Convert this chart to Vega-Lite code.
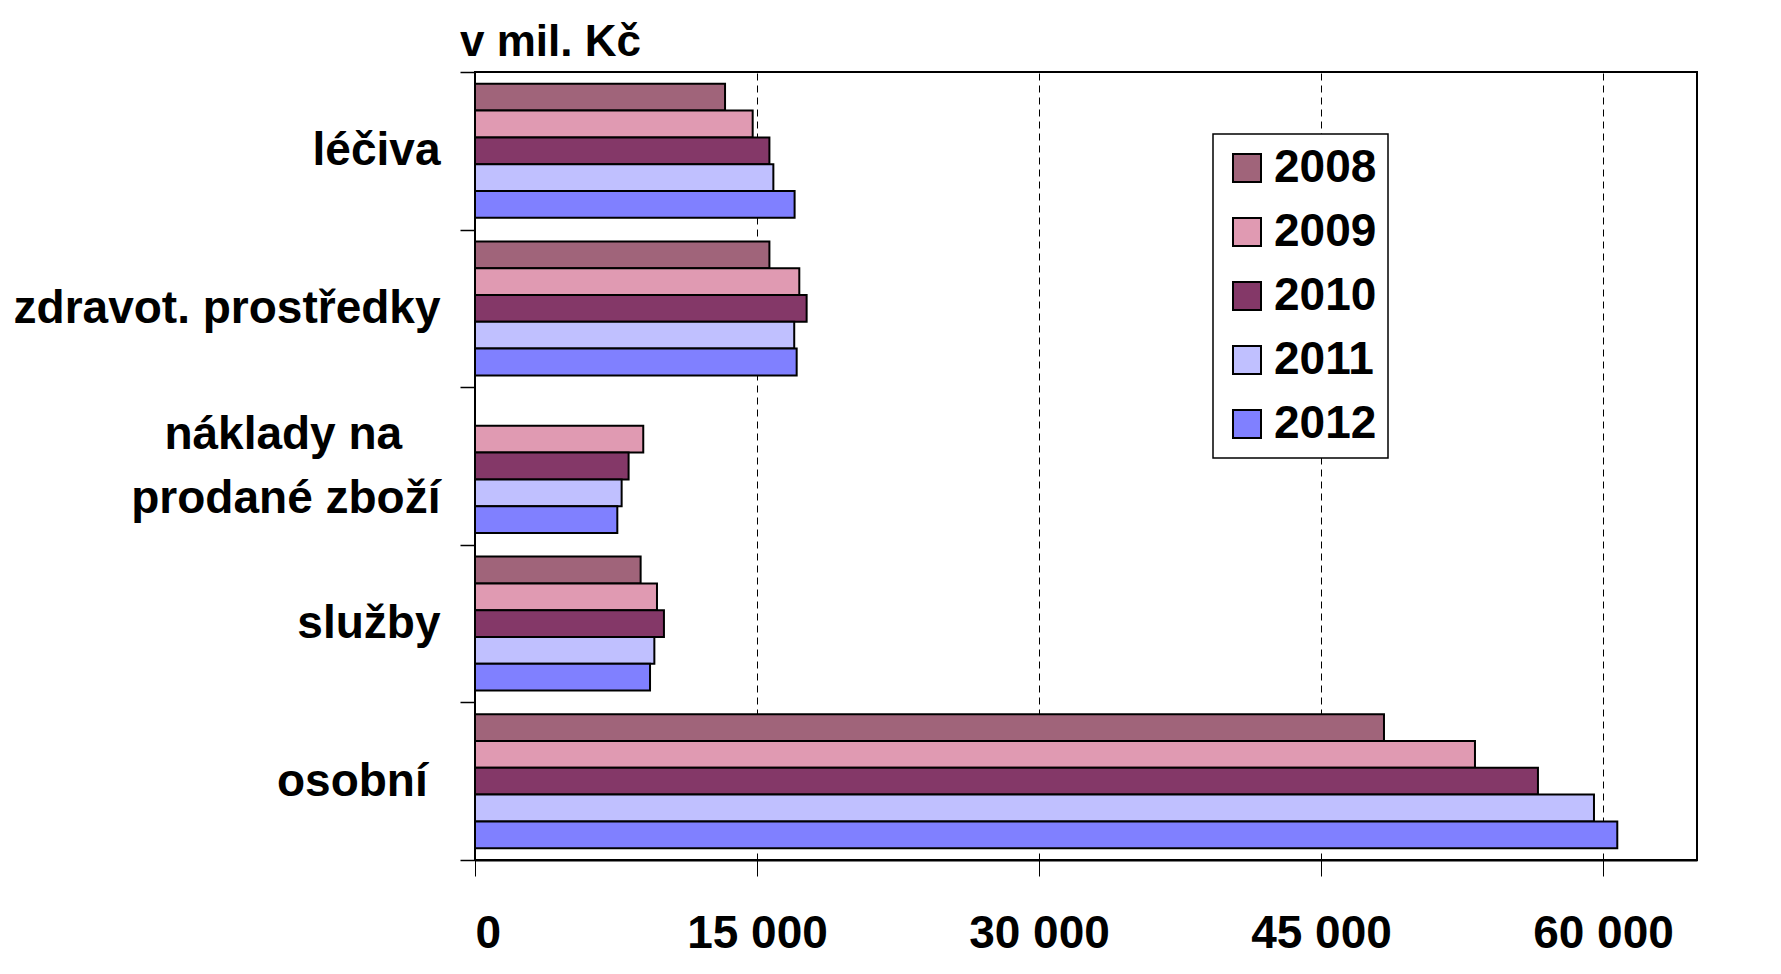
{
  "$schema": "https://vega.github.io/schema/vega-lite/v6.json",
  "width": 1222,
  "height": 788,
  "autosize": {"type": "none"},
  "padding": {"left": 475, "top": 72, "right": 84, "bottom": 114},
  "background": "white",
  "title": {"text": "v mil. Kč", "anchor": "start", "frame": "group", "dx": -15, "dy": 20, "offset": 4, "fontSize": 44, "font": "Liberation Sans", "fontWeight": "bold", "color": "black"},
  "data": {"values": [
    {"category": "léčiva", "year": "2008", "value": 13300},
    {"category": "léčiva", "year": "2009", "value": 14770},
    {"category": "léčiva", "year": "2010", "value": 15660},
    {"category": "léčiva", "year": "2011", "value": 15870},
    {"category": "léčiva", "year": "2012", "value": 17000},
    {"category": "zdravot. prostředky", "year": "2008", "value": 15660},
    {"category": "zdravot. prostředky", "year": "2009", "value": 17250},
    {"category": "zdravot. prostředky", "year": "2010", "value": 17640},
    {"category": "zdravot. prostředky", "year": "2011", "value": 16980},
    {"category": "zdravot. prostředky", "year": "2012", "value": 17110},
    {"category": "náklady na prodané zboží", "year": "2009", "value": 8950},
    {"category": "náklady na prodané zboží", "year": "2010", "value": 8170},
    {"category": "náklady na prodané zboží", "year": "2011", "value": 7800},
    {"category": "náklady na prodané zboží", "year": "2012", "value": 7570},
    {"category": "služby", "year": "2008", "value": 8810},
    {"category": "služby", "year": "2009", "value": 9680},
    {"category": "služby", "year": "2010", "value": 10050},
    {"category": "služby", "year": "2011", "value": 9540},
    {"category": "služby", "year": "2012", "value": 9310},
    {"category": "osobní", "year": "2008", "value": 48350},
    {"category": "osobní", "year": "2009", "value": 53190},
    {"category": "osobní", "year": "2010", "value": 56540},
    {"category": "osobní", "year": "2011", "value": 59520},
    {"category": "osobní", "year": "2012", "value": 60760}
  ]},
  "mark": {"type": "bar", "stroke": "black", "strokeWidth": 2},
  "encoding": {
    "y": {
      "field": "category", "type": "nominal",
      "sort": ["léčiva", "zdravot. prostředky", "náklady na prodané zboží", "služby", "osobní"],
      "scale": {"paddingInner": 0, "paddingOuter": 0},
      "axis": {
        "title": null, "domain": false, "tickBand": "extent", "tickSize": 15, "tickColor": "black", "tickWidth": 1.5,
        "labelFont": "Liberation Sans", "labelFontWeight": "bold", "labelFontSize": 46, "labelColor": "black",
        "labelPadding": 20, "labelLineHeight": 64, "labelLimit": 0,
        "labelOffset": {"expr": "datum.value == 'náklady na prodané zboží' ? -32 : 0"},
        "labelExpr": "datum.value == 'náklady na prodané zboží' ? ['náklady na\u00a0\u00a0\u00a0\u200b', 'prodané zboží'] : (datum.value == 'osobní' ? 'osobní\u00a0\u200b' : datum.value)"
      }
    },
    "yOffset": {"field": "year", "type": "nominal", "scale": {"paddingOuter": 0.44, "paddingInner": 0}},
    "x": {
      "field": "value", "type": "quantitative",
      "scale": {"domain": [0, 65000], "nice": false},
      "axis": {
        "title": null, "values": [0, 15000, 30000, 45000, 60000],
        "labelExpr": "replace(format(datum.value, ',d'), ',', ' ')",
        "grid": true, "gridDash": [7, 5], "gridColor": "black", "gridWidth": 1,
        "domain": true, "domainColor": "black", "domainWidth": 2,
        "tickSize": 16, "tickColor": "black", "tickWidth": 1,
        "labelFont": "Liberation Sans", "labelFontWeight": "bold", "labelFontSize": 46, "labelColor": "black",
        "labelPadding": 35
      }
    },
    "color": {
      "field": "year", "type": "nominal",
      "scale": {"domain": ["2008", "2009", "2010", "2011", "2012"], "range": ["#A0647A", "#E09AB2", "#843868", "#C0C0FF", "#8080FF"]},
      "legend": {
        "orient": "none", "legendX": 738, "legendY": 62, "title": null,
        "symbolType": "square", "symbolSize": 784, "symbolStrokeColor": "black", "symbolStrokeWidth": 2, "symbolOpacity": 1,
        "labelFont": "Liberation Sans", "labelFontWeight": "bold", "labelFontSize": 46, "labelColor": "black",
        "labelOffset": 4, "rowPadding": 18, "padding": 11,
        "strokeColor": "black", "fillColor": "white"
      }
    }
  },
  "config": {
    "view": {"stroke": "black", "strokeWidth": 2},
    "legend": {"strokeWidth": 1.5}
  }
}
